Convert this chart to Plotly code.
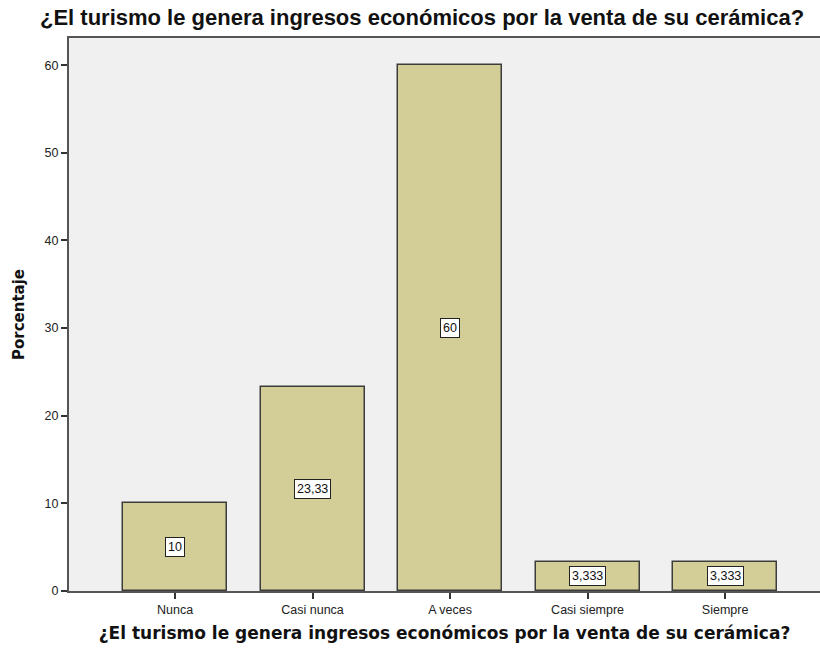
import plotly.graph_objects as go

categories = ["Nunca", "Casi nunca", "A veces", "Casi siempre", "Siempre"]
values = [10, 23.333, 60, 3.333, 3.333]
value_labels = ["10", "23,33", "60", "3,333", "3,333"]
y_ticks = [0, 10, 20, 30, 40, 50, 60]
title_text = "¿El turismo le genera ingresos económicos por la venta de su cerámica?"
y_title = "Porcentaje"

fig = go.Figure()
fig.add_trace(go.Bar(
    x=list(range(len(categories))),
    y=values,
    width=0.756,
    marker=dict(color="#D3CE98", line=dict(color="#3c3c3c", width=1.5)),
    hoverinfo="skip",
))

for i, (v, lab) in enumerate(zip(values, value_labels)):
    fig.add_annotation(
        x=i, y=v / 2, text=lab, showarrow=False,
        bgcolor="white", bordercolor="#222", borderwidth=1, borderpad=2,
        font=dict(family="Liberation Sans, Arial", size=12.5, color="#111"),
    )

fig.update_layout(
    width=820, height=651,
    margin=dict(l=69, r=0, t=38, b=60, autoexpand=False),
    paper_bgcolor="white",
    plot_bgcolor="#F0F0F0",
    showlegend=False,
    bargap=0,
    title=dict(
        text="<b>" + title_text + "</b>",
        x=40 / 820, xanchor="left", y=1 - 17 / 651, yanchor="middle",
        font=dict(family="Liberation Sans, Arial", size=22, color="#111"),
    ),
    xaxis=dict(
        range=[-0.771, 4.69], automargin=False,
        tickmode="array", tickvals=list(range(len(categories))), ticktext=categories,
        ticks="outside", ticklen=6, tickcolor="#333", tickwidth=1.5,
        showline=True, linecolor="#555", linewidth=2, mirror=True,
        showgrid=False, zeroline=False,
        tickfont=dict(family="Liberation Sans, Arial", size=12.5, color="#222"),
        title=dict(
            text="<b>" + title_text + "</b>",
            font=dict(family="DejaVu Sans, Verdana", size=17, color="#111"),
            standoff=11,
        ),
    ),
    yaxis=dict(
        range=[0, 63.1], automargin=False,
        tickmode="array", tickvals=y_ticks,
        ticks="outside", ticklen=6, tickcolor="#333", tickwidth=1.5,
        showline=True, linecolor="#555", linewidth=2,
        showgrid=False, zeroline=False,
        tickfont=dict(family="Liberation Sans, Arial", size=12.5, color="#222"),
        title=dict(
            text="<b>" + y_title + "</b>",
            font=dict(family="DejaVu Sans, Verdana", size=15, color="#111"),
            standoff=16,
        ),
    ),
)

post = (
    "document.body.style.margin='0';"
    "document.body.style.overflow='hidden';"
    "var gd=document.getElementById('{plot_id}');"
    "Plotly.relayout(gd,{width:820,height:651});"
)

fig.write_html("out.html", post_script=post, config={"displayModeBar": False})
